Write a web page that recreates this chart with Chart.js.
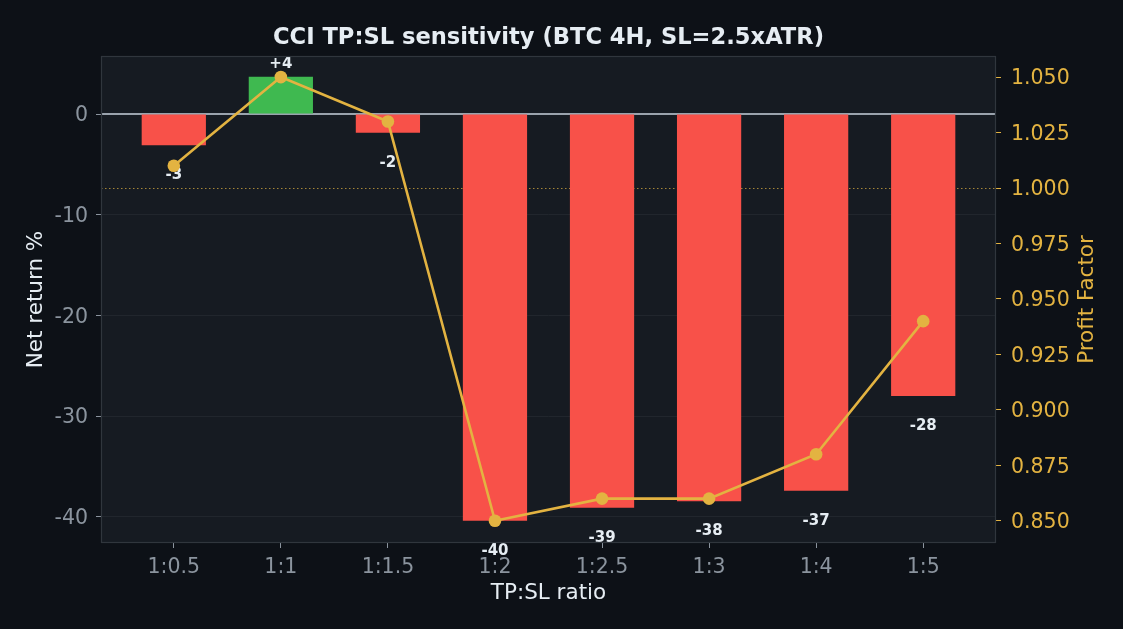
<!DOCTYPE html>
<html><head><meta charset="utf-8">
<script src="https://cdn.jsdelivr.net/npm/chart.js@4.4.1/dist/chart.umd.min.js"></script>
<style>html,body{margin:0;padding:0;background:#0d1117;overflow:hidden;}#wrap{width:1123px;height:629px;}</style>
</head><body><div id="wrap"><canvas id="c" width="1123" height="629"></canvas></div>
<script>
const categories = ['1:0.5','1:1','1:1.5','1:2','1:2.5','1:3','1:4','1:5'];
const netReturn = [-3.1, 3.7, -1.85, -40.4, -39.1, -38.45, -37.4, -28.0];
const profitFactor = [1.010, 1.050, 1.030, 0.850, 0.860, 0.860, 0.880, 0.940];
const leftTicks = [0, -10, -20, -30, -40];
const rightTicks = [0.850, 0.875, 0.900, 0.925, 0.950, 0.975, 1.000, 1.025, 1.050];

const FONT = 'DejaVu Sans';
Chart.defaults.font.family = FONT;

const barData = netReturn.map((v, i) => ({x: i, y: v}));
const lineData = profitFactor.map((v, i) => ({x: i, y: v}));
const barColors = netReturn.map(v => v >= 0 ? '#3fb950' : '#f85149');

const decor = {
  id: 'decor',
  beforeDraw(chart) {
    const {ctx, chartArea: a} = chart;
    ctx.save();
    ctx.fillStyle = '#0d1117';
    ctx.fillRect(0, 0, chart.width, chart.height);
    ctx.fillStyle = '#161b22';
    ctx.fillRect(a.left, a.top, a.right - a.left, a.bottom - a.top);
    ctx.restore();
  },
  beforeDatasetsDraw(chart) {
    const {ctx, chartArea: a, scales} = chart;
    ctx.save();
    const y0 = scales.y.getPixelForValue(0);
    ctx.strokeStyle = '#9aa3ad';
    ctx.lineWidth = 1.8;
    ctx.beginPath(); ctx.moveTo(a.left, y0); ctx.lineTo(a.right, y0); ctx.stroke();
    const y1 = scales.y1.getPixelForValue(1.0);
    ctx.strokeStyle = 'rgba(227,179,65,0.7)';
    ctx.lineWidth = 1;
    ctx.setLineDash([1.5, 2.5]);
    ctx.beginPath(); ctx.moveTo(a.left, y1 + 0.5); ctx.lineTo(a.right, y1 + 0.5); ctx.stroke();
    ctx.restore();
  },
  afterDatasetDraw(chart, args) {
    if (args.index !== 0) return;
    const {ctx, scales} = chart;
    ctx.save();
    ctx.font = 'bold 15px "' + FONT + '"';
    ctx.fillStyle = '#e6edf3';
    ctx.textAlign = 'center';
    ctx.textBaseline = 'middle';
    netReturn.forEach((v, i) => {
      const x = scales.x.getPixelForValue(i);
      const yp = scales.y.getPixelForValue(v);
      const txt = (v > 0 ? '+' : '') + Math.round(v);
      ctx.fillText(txt, x, v >= 0 ? yp - 13 : yp + 30);
    });
    ctx.restore();
  },
  afterDraw(chart) {
    const {ctx, chartArea: a} = chart;
    ctx.save();
    ctx.strokeStyle = '#30363d';
    ctx.lineWidth = 1.2;
    ctx.strokeRect(a.left + 0.5, a.top + 0.5, a.right - a.left - 1, a.bottom - a.top - 1);
    ctx.textAlign = 'center';
    ctx.textBaseline = 'middle';
    ctx.fillStyle = '#e6edf3';
    ctx.font = 'bold 22.6px "' + FONT + '"';
    ctx.fillText('CCI TP:SL sensitivity (BTC 4H, SL=2.5xATR)', (a.left + a.right) / 2, 38);
    ctx.font = '21.5px "' + FONT + '"';
    ctx.fillText('TP:SL ratio', (a.left + a.right) / 2, 593);
    const cy = (a.top + a.bottom) / 2;
    ctx.save();
    ctx.translate(36, cy); ctx.rotate(-Math.PI / 2);
    ctx.fillText('Net return %', 0, 0);
    ctx.restore();
    ctx.save();
    ctx.fillStyle = '#e3b341';
    ctx.translate(1087, cy); ctx.rotate(-Math.PI / 2);
    ctx.fillText('Profit Factor', 0, 0);
    ctx.restore();
    ctx.restore();
  }
};

new Chart(document.getElementById('c'), {
  type: 'bar',
  data: {
    datasets: [
      {type: 'bar', data: barData, backgroundColor: barColors, borderWidth: 0,
       barPercentage: 0.6, categoryPercentage: 1.0, xAxisID: 'x', yAxisID: 'y', order: 2},
      {type: 'line', data: lineData, borderColor: '#e3b341', borderWidth: 2.6,
       pointRadius: 6.3, pointBackgroundColor: '#e3b341', pointBorderWidth: 0,
       tension: 0, xAxisID: 'x', yAxisID: 'y1', order: 1}
    ]
  },
  options: {
    responsive: false, animation: false, devicePixelRatio: 1,
    layout: {padding: {top: 56, left: 0, right: 0, bottom: 0}},
    plugins: {legend: {display: false}, tooltip: {enabled: false}, title: {display: false}},
    scales: {
      x: {
        type: 'linear', min: -0.68, max: 7.68, offset: false,
        afterBuildTicks: s => { s.ticks = categories.map((_, i) => ({value: i})); },
        afterFit: s => { s.height = 86; },
        ticks: {callback: v => categories[v], color: '#8b949e', font: {size: 20.5}, padding: 7,
                autoSkip: false, maxRotation: 0},
        grid: {display: true, drawOnChartArea: false, drawTicks: true, tickLength: 5,
               tickColor: '#8b949e', offset: false},
        border: {display: false}
      },
      y: {
        position: 'left', min: -42.6, max: 5.76,
        afterBuildTicks: s => { s.ticks = leftTicks.map(v => ({value: v})); },
        afterFit: s => { s.width = 101; },
        ticks: {color: '#8b949e', font: {size: 20.5}, padding: 8, labelOffset: 2},
        grid: {color: '#21262d', lineWidth: 1, tickLength: 5, tickColor: '#8b949e'},
        border: {display: false}
      },
      y1: {
        position: 'right', min: 0.840, max: 1.0595,
        afterBuildTicks: s => { s.ticks = rightTicks.map(v => ({value: v})); },
        afterFit: s => { s.width = 127; },
        ticks: {color: '#e3b341', font: {size: 20.5}, padding: 10, labelOffset: 2,
                callback: v => Number(v).toFixed(3)},
        grid: {drawOnChartArea: false, tickLength: 5, tickColor: '#e3b341'},
        border: {display: false}
      }
    }
  },
  plugins: [decor]
});
</script>
</body></html>
